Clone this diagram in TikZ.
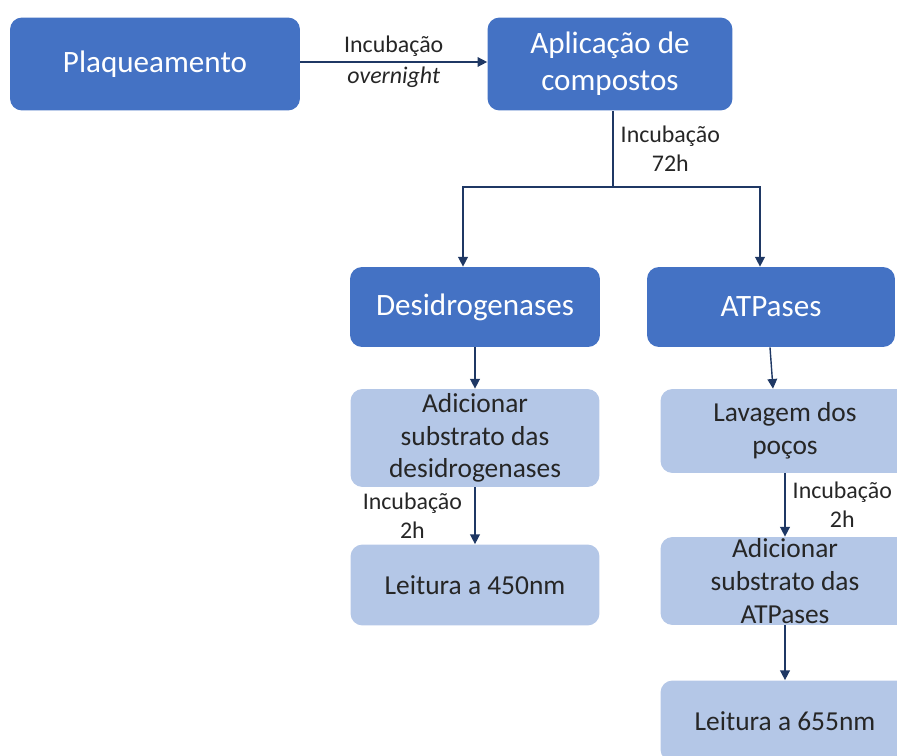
\documentclass[tikz,border=0pt]{standalone}
\usepackage{fontspec}
\setmainfont{Carlito}
\usetikzlibrary{arrows.meta, positioning}
\definecolor{BoxDark}{RGB}{68,114,196}
\definecolor{BoxLight}{RGB}{180,199,231}
\definecolor{LineNavy}{RGB}{31,56,100}
\definecolor{TextGray}{RGB}{38,38,38}

\begin{document}
\begin{tikzpicture}[x=0.02cm,y=-0.02cm,
    main/.style={rectangle,rounded corners=0.24cm,fill=BoxDark,text=white,
                 font=\fontsize{17.7}{21.2}\selectfont,align=center,inner sep=0pt},
    sub/.style={rectangle,rounded corners=0.24cm,fill=BoxLight,text=TextGray,
                font=\fontsize{15.6}{18.6}\selectfont,align=center,inner sep=0pt,
                minimum width=4.98cm},
    arr/.style={-{Triangle[length=5.5pt,width=5.5pt]},LineNavy,line width=0.8pt},
    lbl/.style={font=\fontsize{13.6}{16.4}\selectfont,text=TextGray,align=center,inner sep=1pt}
  ]
  \useasboundingbox (0,0) rectangle (897,756);
  \clip (0,0) rectangle (897,756);
  % top row
  \node[main,minimum width=5.8cm,minimum height=1.86cm] (plaq) at (155,64) {Plaqueamento};
  \node[main,minimum width=4.9cm,minimum height=1.86cm] (aplic) at (610,64) {Aplicação de\\compostos};
  % enzyme classes
  \node[main,minimum width=5cm,minimum height=1.6cm] (desid) at (475,307) {Desidrogenases};
  \node[main,minimum width=4.96cm,minimum height=1.6cm] (atp) at (771,307) {ATPases};
  % desidrogenases branch
  \node[sub,minimum height=1.96cm] (subdes) at (475,438) {Adicionar\\substrato das\\desidrogenases};
  \node[sub,minimum height=1.62cm] (leit450) at (475,585) {Leitura a 450nm};
  % ATPases branch
  \node[sub,minimum height=1.68cm] (lav) at (785,431) {Lavagem dos\\poços};
  \node[sub,minimum height=1.76cm] (subatp) at (785,581) {Adicionar\\substrato das\\ATPases};
  \node[sub,minimum height=1.62cm] (leit655) at (785,721) {Leitura a 655nm};
  % connectors
  \draw[arr] ([yshift=0.04cm]plaq.east) -- node[lbl,midway]{Incubação\\[1pt]\itshape overnight} ([yshift=0.04cm]aplic.west);
  \coordinate (split) at (613,187);
  \draw[LineNavy,line width=0.8pt] (aplic.south -| split) --
    node[lbl,midway,right=3pt]{Incubação\\72h} (split);
  \draw[arr] (split) -| ([xshift=-0.24cm]desid.north);
  \draw[arr] (split) -| ([xshift=-0.22cm]atp.north);
  \draw[arr] (desid.south) -- (subdes.north);
  \draw[arr] (subdes.south) -- node[lbl,midway,left=6pt]{Incubação\\2h} (leit450.north);
  \draw[arr] ([xshift=-0.02cm]atp.south) -- ([xshift=-0.24cm]lav.north);
  \draw[arr] (lav.south) -- node[lbl,midway,right=3pt]{Incubação\\2h} (subatp.north);
  \draw[arr] (subatp.south) -- (leit655.north);
\end{tikzpicture}
\end{document}
